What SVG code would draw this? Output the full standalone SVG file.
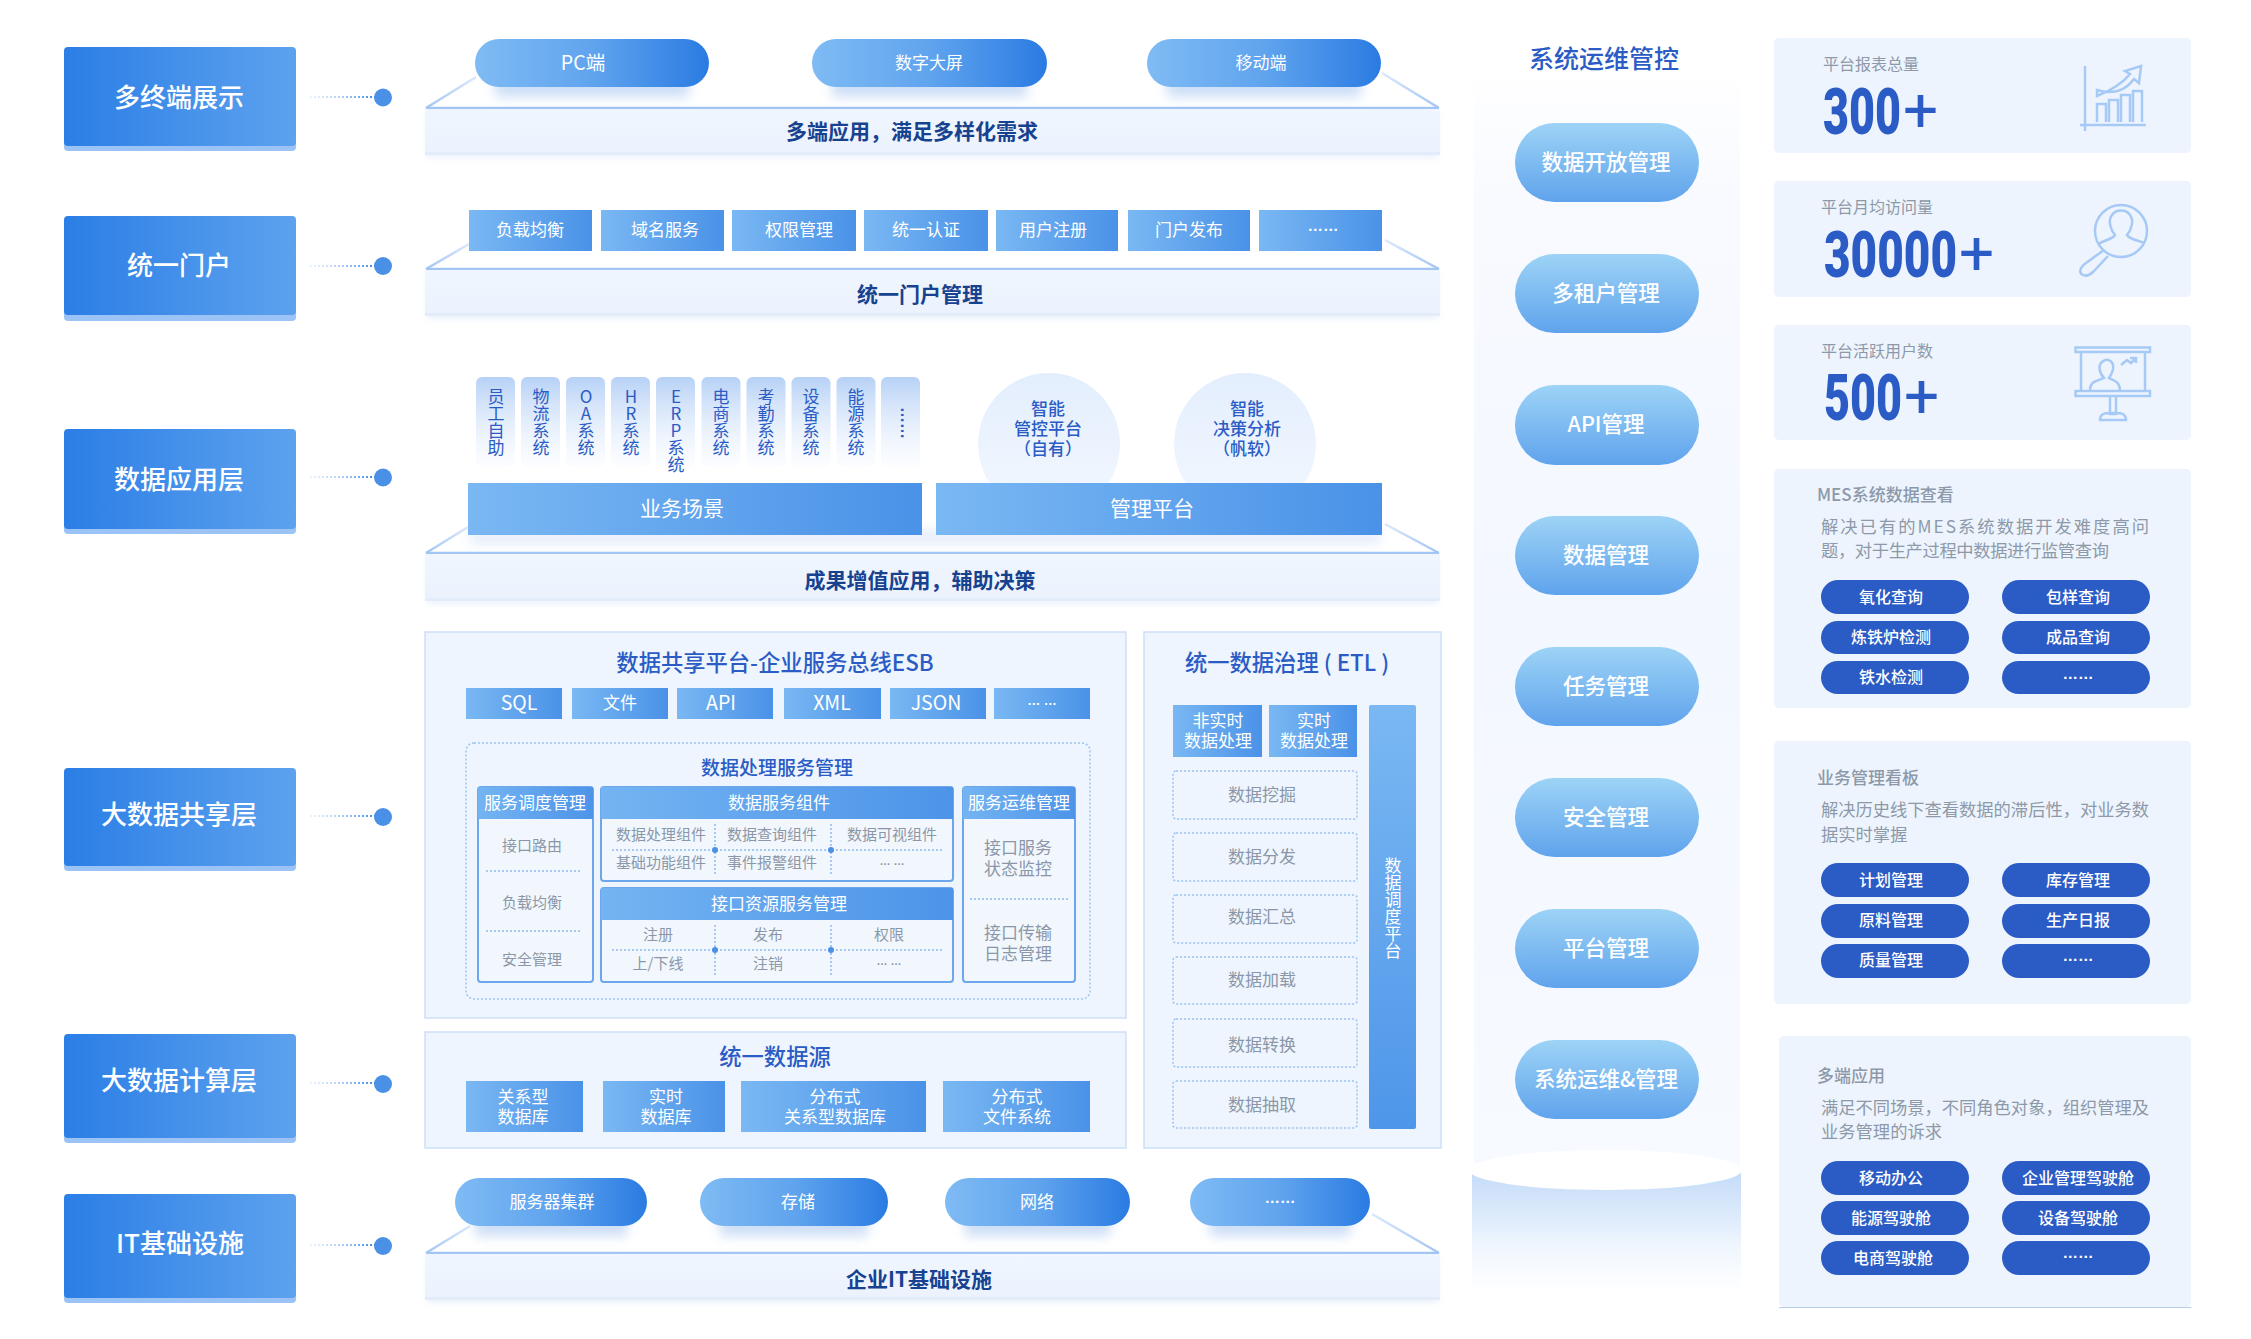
<svg xmlns="http://www.w3.org/2000/svg" width="2251" height="1339" viewBox="0 0 2251 1339">
<style>
text{font-family:"Noto Sans CJK SC","Noto Sans",sans-serif;text-anchor:middle;dominant-baseline:central;transform:translateY(-1.5px)}
.lay{fill:#fff;font-size:26px;font-weight:500}
.plat{fill:#17428f;font-size:21px;font-weight:700}
.blue{fill:#2b5cc5;font-weight:500;font-size:17px}
.h19{fill:#2b5cc5;font-size:19px;font-weight:500}
.h22{fill:#2b5cc5;font-size:22.300px;font-weight:500}
.s17{fill:#fff;font-size:17px}
.s19{fill:#fff;font-size:19.5px}
.s21{fill:#fff;font-size:21px}
.g15{fill:#8b97a8;font-size:15px}
.g17{fill:#8b97a8;font-size:17px}
.vt{writing-mode:vertical-rl;text-orientation:upright;text-anchor:start}
.v{fill:#2b5cc5;font-size:17px}
.vw{fill:#fff;font-size:17px}
.lab{fill:#8d99a8;font-size:16px;text-anchor:start}
.tit{fill:#8d99a8;font-size:17px;font-weight:500;text-anchor:start}
.dsc{fill:#8d99a8;font-size:17.3px;text-anchor:start}
.btx{fill:#fff;font-size:16px;font-weight:500}
.dt{font-family:"Liberation Sans",sans-serif;font-size:15.5px;font-weight:700;fill:#fff;dominant-baseline:alphabetic}
.dtg{font-family:"Liberation Sans",sans-serif;font-size:11px;font-weight:700;fill:#8b97a8;dominant-baseline:alphabetic}
.num{fill:#2b5cc5;font-family:"Roboto","Liberation Sans",sans-serif;font-size:65px;font-weight:900;text-anchor:start;dominant-baseline:alphabetic;transform:none}
.numplus{font-weight:400;font-size:62px}
.ops{fill:#fff;font-size:21.5px;font-weight:500}
.card{fill:#edf4fe}
.btn{fill:#2b5cc5}
.pbody{fill:url(#pb)}
.pstrip{fill:#e2ecfa}
.ptop{stroke:#a2c5f4;stroke-width:2.5;fill:none}
.diag{stroke:url(#dgv);stroke-width:2.5;fill:none}
.pill{fill:url(#hg)}
.box{fill:url(#hg2)}
.shadow{fill:#bcd3f3;filter:url(#blur);opacity:.75}
.pshadow{fill:#bcd3f3;filter:url(#soft);opacity:.3}
.panel{fill:#eef5fe;stroke:#cddff8;stroke-width:1.5}
.colb{fill:#fff;fill-opacity:.25;stroke:#6ea6ec;stroke-width:2}
.head{fill:url(#hg3)}
.dash{fill:none;stroke:#9cc2f3;stroke-width:1.5;stroke-dasharray:2 2}
.dl{stroke:#8fb9f0;stroke-width:1.5;stroke-dasharray:2 2;fill:none}
.dot{fill:#4a90e6}
.ic{fill:none;stroke:#a6c9f5;stroke-width:2.5}
.opsp{fill:url(#vg)}
</style>
<defs>
<linearGradient id="hg" x1="0" x2="1" y1="0" y2="0"><stop offset="0" stop-color="#7fbbf4"/><stop offset=".5" stop-color="#60a4ee"/><stop offset="1" stop-color="#2a7be2"/></linearGradient>
<linearGradient id="hg2" x1="0" x2="1" y1="0" y2="0"><stop offset="0" stop-color="#7ab8f3"/><stop offset="1" stop-color="#4a92e8"/></linearGradient>
<linearGradient id="hg3" x1="0" x2="1" y1="0" y2="0"><stop offset="0" stop-color="#74b4f2"/><stop offset="1" stop-color="#4d94e9"/></linearGradient>
<linearGradient id="lg" x1="0" x2="1" y1="0" y2="0"><stop offset="0" stop-color="#2b7ee6"/><stop offset="1" stop-color="#5da2ee"/></linearGradient>
<linearGradient id="pb" x1="0" x2="0" y1="0" y2="1"><stop offset="0" stop-color="#f0f6ff"/><stop offset="1" stop-color="#ebf2fd"/></linearGradient>
<linearGradient id="dgv" x1="0" x2="0" y1="0" y2="1"><stop offset="0" stop-color="#dbe8fb"/><stop offset="1" stop-color="#a2c5f4"/></linearGradient>
<linearGradient id="vg" x1="0" x2="0" y1="0" y2="1"><stop offset="0" stop-color="#9dd3f6"/><stop offset="1" stop-color="#5fa3ec"/></linearGradient>
<linearGradient id="cir" x1="0" x2="0" y1="0" y2="1"><stop offset="0" stop-color="#e3eefd"/><stop offset="1" stop-color="#f3f8ff"/></linearGradient>
<linearGradient id="side" x1="0" x2="0" y1="0" y2="1"><stop offset="0" stop-color="#fff"/><stop offset=".12" stop-color="#f8faff"/><stop offset=".5" stop-color="#f3f7ff"/><stop offset="1" stop-color="#f7faff"/></linearGradient>
<linearGradient id="cyl" x1="0" x2="0" y1="0" y2="1"><stop offset="0" stop-color="#c3dbf8"/><stop offset=".32" stop-color="#d9e8fb"/><stop offset=".62" stop-color="#f0f6fe"/><stop offset="1" stop-color="#fff"/></linearGradient>
<linearGradient id="cardv" x1="0" x2="0" y1="0" y2="1"><stop offset="0" stop-color="#b6d1f6"/><stop offset="1" stop-color="#f4f8ff" stop-opacity=".3"/></linearGradient>
<linearGradient id="etlv" x1="0" x2="0" y1="0" y2="1"><stop offset="0" stop-color="#7ab8f3"/><stop offset="1" stop-color="#4e96e9"/></linearGradient>
<linearGradient id="dg" gradientUnits="userSpaceOnUse" x1="310" x2="378" y1="0" y2="0"><stop offset="0" stop-color="#bcd6f8" stop-opacity=".3"/><stop offset="1" stop-color="#2b7ee6"/></linearGradient>
<filter id="blur" x="-20%" y="-60%" width="140%" height="220%"><feGaussianBlur stdDeviation="6"/></filter>
<filter id="soft" x="-5%" y="-20%" width="110%" height="140%"><feGaussianBlur stdDeviation="3"/></filter>
<clipPath id="cc"><rect x="960" y="360" width="380" height="124"/></clipPath>
</defs>
<rect width="2251" height="1339" fill="#fff"/>

<g id="connectors" stroke="url(#dg)" stroke-width="2" stroke-dasharray="2 2" fill="none">
<path d="M310 97H378M310 266H378M310 477H378M310 816H378M310 1083H378M310 1245H378"/>
</g>
<g id="connector-dots" class="dot">
<circle cx="383" cy="97.500" r="9"/><circle cx="383" cy="266" r="9"/><circle cx="383" cy="477.500" r="9"/><circle cx="383" cy="817" r="9"/><circle cx="383" cy="1084" r="9"/><circle cx="383" cy="1246" r="9"/>
</g>

<g id="layer-terminal"><rect x="64" y="60" width="232" height="91" rx="4" fill="#9cc3f5"/><rect x="64" y="47" width="232" height="99" rx="4" fill="url(#lg)"/><text class="lay" x="179" y="97">多终端展示</text></g>
<g id="layer-portal"><rect x="64" y="230" width="232" height="91" rx="4" fill="#9cc3f5"/><rect x="64" y="216" width="232" height="99" rx="4" fill="url(#lg)"/><text class="lay" x="179" y="265">统一门户</text></g>
<g id="layer-app"><rect x="64" y="443" width="232" height="91" rx="4" fill="#9cc3f5"/><rect x="64" y="429" width="232" height="100" rx="4" fill="url(#lg)"/><text class="lay" x="179" y="479">数据应用层</text></g>
<g id="layer-share"><rect x="64" y="780" width="232" height="91" rx="4" fill="#9cc3f5"/><rect x="64" y="768" width="232" height="98" rx="4" fill="url(#lg)"/><text class="lay" x="179" y="814">大数据共享层</text></g>
<g id="layer-compute"><rect x="64" y="1050" width="232" height="93" rx="4" fill="#9cc3f5"/><rect x="64" y="1034" width="232" height="104" rx="4" fill="url(#lg)"/><text class="lay" x="179" y="1080">大数据计算层</text></g>
<g id="layer-it"><rect x="64" y="1210" width="232" height="93" rx="4" fill="#9cc3f5"/><rect x="64" y="1194" width="232" height="104" rx="4" fill="url(#lg)"/><text class="lay" x="180" y="1243">IT基础设施</text></g>

<g id="platform-terminal">
<rect x="427" y="112" width="1011" height="46" class="pshadow"/>
<path class="diag" d="M476 77L426 108"/><path class="diag" d="M1382 73L1439 108"/><path class="ptop" d="M426 108H1439"/>
<rect class="pbody" x="425" y="109" width="1015" height="46"/><rect class="pstrip" x="425" y="152" width="1015" height="3"/>
<text class="plat" x="912" y="131">多端应用，满足多样化需求</text>
<rect class="shadow" x="495" y="75" width="194" height="22"/><rect class="shadow" x="832" y="75" width="195" height="22"/><rect class="shadow" x="1167" y="75" width="194" height="22"/>
<rect class="pill" x="475" y="39" width="234" height="48" rx="24"/><text class="s19" x="583" y="63">PC端</text>
<rect class="pill" x="812" y="39" width="235" height="48" rx="24"/><text class="s17" x="929" y="63">数字大屏</text>
<rect class="pill" x="1147" y="39" width="234" height="48" rx="24"/><text class="s17" x="1261" y="63">移动端</text>
</g>

<g id="platform-portal">
<rect x="427" y="273" width="1011" height="46" class="pshadow"/>
<path class="diag" d="M469 244L426 269"/><path class="diag" d="M1385 240L1439 269"/><path class="ptop" d="M426 269H1439"/>
<rect class="pbody" x="425" y="270" width="1015" height="46"/><rect class="pstrip" x="425" y="313" width="1015" height="3"/>
<text class="plat" x="920" y="294">统一门户管理</text>
<rect class="box" x="469" y="210" width="123" height="41"/><text class="s17" x="530" y="230">负载均衡</text>
<rect class="box" x="601" y="210" width="123" height="41"/><text class="s17" x="665" y="230">域名服务</text>
<rect class="box" x="732" y="210" width="124" height="41"/><text class="s17" x="799" y="230">权限管理</text>
<rect class="box" x="864" y="210" width="124" height="41"/><text class="s17" x="926" y="230">统一认证</text>
<rect class="box" x="996" y="210" width="122" height="41"/><text class="s17" x="1053" y="230">用户注册</text>
<rect class="box" x="1128" y="210" width="122" height="41"/><text class="s17" x="1189" y="230">门户发布</text>
<rect class="box" x="1259" y="210" width="123" height="41"/><text class="dt" x="1323" y="232">……</text>
</g>

<g id="platform-app">
<rect x="427" y="557" width="1011" height="47" class="pshadow"/>
<path class="diag" d="M468 527L426 553"/><path class="diag" d="M1385 524L1439 553"/><path class="ptop" d="M426 553H1439"/>
<rect class="pbody" x="425" y="554" width="1015" height="47"/><rect class="pstrip" x="425" y="598" width="1015" height="3"/>
<text class="plat" x="920" y="580">成果增值应用，辅助决策</text>
<g fill="url(#cardv)"><rect x="476" y="377" width="39" height="90" rx="6"/><rect x="521" y="377" width="39" height="90" rx="6"/><rect x="566" y="377" width="39" height="90" rx="6"/><rect x="611" y="377" width="39" height="90" rx="6"/><rect x="656" y="377" width="39" height="90" rx="6"/><rect x="701.500" y="377" width="39" height="90" rx="6"/><rect x="746.500" y="377" width="39" height="90" rx="6"/><rect x="791.500" y="377" width="39" height="90" rx="6"/><rect x="836.500" y="377" width="39" height="90" rx="6"/><rect x="881" y="377" width="39" height="90" rx="6"/></g>
<text class="v vt" x="496" y="390">员工自助</text>
<text class="v vt" x="541" y="390">物流系统</text>
<text class="v vt" x="586" y="390">OA系统</text>
<text class="v vt" x="631" y="390">HR系统</text>
<text class="v vt" x="676" y="390">ERP系统</text>
<text class="v vt" x="721" y="390">电商系统</text>
<text class="v vt" x="766" y="390">考勤系统</text>
<text class="v vt" x="811" y="390">设备系统</text>
<text class="v vt" x="856" y="390">能源系统</text>
<text x="900.500" y="423" style="font-family:'Liberation Sans',sans-serif;font-size:16px;font-weight:700;fill:#2b5cc5;dominant-baseline:alphabetic;transform-origin:900.5px 423px;transform:rotate(90deg)">……</text>
<g clip-path="url(#cc)" fill="url(#cir)"><circle cx="1049" cy="444" r="71"/><circle cx="1245" cy="444" r="71"/></g>
<text class="blue" x="1048" y="409">智能</text><text class="blue" x="1048" y="429">管控平台</text><text class="blue" x="1048" y="449">（自有）</text>
<text class="blue" x="1247" y="409">智能</text><text class="blue" x="1247" y="429">决策分析</text><text class="blue" x="1247" y="449">（帆软）</text>
<rect class="shadow" x="470" y="530" width="910" height="14" style="opacity:.4"/>
<rect class="box" x="468" y="483" width="454" height="52"/><text class="s21" x="682" y="508">业务场景</text>
<rect class="box" x="936" y="483" width="446" height="52"/><text class="s21" x="1152" y="508">管理平台</text>
</g>

<g id="esb">
<rect class="panel" x="425" y="632" width="701" height="386"/>
<text class="h22" x="775" y="662">数据共享平台-企业服务总线ESB</text>
<rect class="box" x="466" y="688" width="96" height="31"/><text class="s19" x="519" y="703">SQL</text>
<rect class="box" x="572" y="688" width="96" height="31"/><text class="s17" x="620" y="703">文件</text>
<rect class="box" x="677" y="688" width="96" height="31"/><text class="s19" x="721" y="703">API</text>
<rect class="box" x="784" y="688" width="97" height="31"/><text class="s19" x="832" y="703">XML</text>
<rect class="box" x="890" y="688" width="96" height="31"/><text class="s19" x="936" y="703">JSON</text>
<rect class="box" x="994" y="688" width="96" height="31"/><text class="dt" x="1042" y="706" style="font-size:13px">… …</text>
<rect class="dash" x="466" y="743" width="624" height="256" rx="8"/>
<text class="h19" x="777" y="768">数据处理服务管理</text>

<rect class="colb" x="478" y="787" width="115" height="195" rx="3"/><rect class="head" x="478" y="787" width="115" height="32"/>
<text class="s17" x="535" y="803">服务调度管理</text>
<text class="g15" x="532" y="846">接口路由</text><text class="g15" x="532" y="903">负载均衡</text><text class="g15" x="532" y="960">安全管理</text>
<path class="dl" d="M486 871H581M486 931H581"/>

<rect class="colb" x="601" y="787" width="352" height="94" rx="3"/><rect class="head" x="601" y="787" width="352" height="32"/>
<text class="s17" x="779" y="803">数据服务组件</text>
<text class="g15" x="661" y="835">数据处理组件</text><text class="g15" x="772" y="835">数据查询组件</text><text class="g15" x="892" y="835">数据可视组件</text>
<text class="g15" x="661" y="863">基础功能组件</text><text class="g15" x="772" y="863">事件报警组件</text><text class="dtg" x="892" y="866">… …</text>
<path class="dl" d="M612 850H944M715 824V875M831 824V875"/><circle class="dot" cx="715" cy="850" r="3"/><circle class="dot" cx="831" cy="850" r="3"/>

<rect class="colb" x="601" y="888" width="352" height="94" rx="3"/><rect class="head" x="601" y="888" width="352" height="32"/>
<text class="s17" x="779" y="904">接口资源服务管理</text>
<text class="g15" x="658" y="935">注册</text><text class="g15" x="768" y="935">发布</text><text class="g15" x="889" y="935">权限</text>
<text class="g15" x="658" y="964">上/下线</text><text class="g15" x="768" y="964">注销</text><text class="dtg" x="889" y="966">… …</text>
<path class="dl" d="M612 950H944M715 925V975M831 925V975"/><circle class="dot" cx="715" cy="950" r="3"/><circle class="dot" cx="831" cy="950" r="3"/>

<rect class="colb" x="963" y="787" width="112" height="195" rx="3"/><rect class="head" x="963" y="787" width="112" height="32"/>
<text class="s17" x="1019" y="803">服务运维管理</text>
<text class="g17" x="1018" y="848">接口服务</text><text class="g17" x="1018" y="869">状态监控</text>
<text class="g17" x="1018" y="933">接口传输</text><text class="g17" x="1018" y="954">日志管理</text>
<path class="dl" d="M970 899H1068"/>
</g>

<g id="datasource">
<rect class="panel" x="425" y="1032" width="701" height="116"/>
<text class="h22" x="775" y="1056">统一数据源</text>
<rect class="box" x="466" y="1081" width="117" height="51"/><text class="s17" x="523" y="1097">关系型</text><text class="s17" x="523" y="1117">数据库</text>
<rect class="box" x="603" y="1081" width="122" height="51"/><text class="s17" x="666" y="1097">实时</text><text class="s17" x="666" y="1117">数据库</text>
<rect class="box" x="741" y="1081" width="185" height="51"/><text class="s17" x="835" y="1097">分布式</text><text class="s17" x="835" y="1117">关系型数据库</text>
<rect class="box" x="943" y="1081" width="147" height="51"/><text class="s17" x="1017" y="1097">分布式</text><text class="s17" x="1017" y="1117">文件系统</text>
</g>

<g id="etl">
<rect class="panel" x="1144" y="632" width="297" height="516"/>
<text class="h22" x="1287" y="662">统一数据治理 ( ETL )</text>
<rect class="box" x="1173" y="705" width="89" height="52"/><text class="s17" x="1218" y="721">非实时</text><text class="s17" x="1218" y="741">数据处理</text>
<rect class="box" x="1269" y="705" width="88" height="52"/><text class="s17" x="1314" y="721">实时</text><text class="s17" x="1314" y="741">数据处理</text>
<rect x="1369" y="705" width="47" height="424" rx="2" fill="url(#etlv)"/>
<text class="vw vt" x="1393" y="859">数据调度平台</text>
<rect class="dash" x="1173" y="771" width="184" height="48" rx="3"/><text class="g17" x="1262" y="795">数据挖掘</text>
<rect class="dash" x="1173" y="833" width="184" height="48" rx="3"/><text class="g17" x="1262" y="857">数据分发</text>
<rect class="dash" x="1173" y="895" width="184" height="48" rx="3"/><text class="g17" x="1262" y="917">数据汇总</text>
<rect class="dash" x="1173" y="957" width="184" height="47" rx="3"/><text class="g17" x="1262" y="980">数据加载</text>
<rect class="dash" x="1173" y="1019" width="184" height="48" rx="3"/><text class="g17" x="1262" y="1045">数据转换</text>
<rect class="dash" x="1173" y="1081" width="184" height="47" rx="3"/><text class="g17" x="1262" y="1105">数据抽取</text>
</g>

<g id="platform-it">
<rect x="427" y="1257" width="1011" height="46" class="pshadow"/>
<path class="diag" d="M470 1226L426 1253"/><path class="diag" d="M1372 1214L1439 1253"/><path class="ptop" d="M426 1253H1439"/>
<rect class="pbody" x="425" y="1254" width="1015" height="46"/><rect class="pstrip" x="425" y="1297" width="1015" height="3"/>
<text class="plat" x="919" y="1279">企业IT基础设施</text>
<rect class="shadow" x="475" y="1214" width="152" height="22"/><rect class="shadow" x="720" y="1214" width="148" height="22"/><rect class="shadow" x="965" y="1214" width="145" height="22"/><rect class="shadow" x="1210" y="1214" width="140" height="22"/>
<rect class="pill" x="455" y="1178" width="192" height="48" rx="24"/><text class="s17" x="552" y="1202">服务器集群</text>
<rect class="pill" x="700" y="1178" width="188" height="48" rx="24"/><text class="s17" x="798" y="1202">存储</text>
<rect class="pill" x="945" y="1178" width="185" height="48" rx="24"/><text class="s17" x="1037" y="1202">网络</text>
<rect class="pill" x="1190" y="1178" width="180" height="48" rx="24"/><text class="dt" x="1280" y="1204">……</text>
</g>

<g id="ops">
<rect x="1474" y="64" width="266" height="1120" fill="url(#side)"/>
<rect x="1472" y="1170" width="269" height="123" fill="url(#cyl)"/>
<ellipse cx="1605.500" cy="1170" rx="136.500" ry="20" fill="#fff"/>
<text class="h22" style="font-size:25px" x="1604" y="58">系统运维管控</text>
<rect class="opsp" x="1515" y="123" width="184" height="79" rx="39.500"/><text class="ops" x="1606" y="162">数据开放管理</text>
<rect class="opsp" x="1515" y="254" width="184" height="79" rx="39.500"/><text class="ops" x="1606" y="293">多租户管理</text>
<rect class="opsp" x="1515" y="385" width="184" height="80" rx="39.500"/><text class="ops" x="1606" y="424">API管理</text>
<rect class="opsp" x="1515" y="516" width="184" height="79" rx="39.500"/><text class="ops" x="1606" y="555">数据管理</text>
<rect class="opsp" x="1515" y="647" width="184" height="79" rx="39.500"/><text class="ops" x="1606" y="686">任务管理</text>
<rect class="opsp" x="1515" y="778" width="184" height="79" rx="39.500"/><text class="ops" x="1606" y="817">安全管理</text>
<rect class="opsp" x="1515" y="909" width="184" height="79" rx="39.500"/><text class="ops" x="1606" y="948">平台管理</text>
<rect class="opsp" x="1515" y="1040" width="184" height="79" rx="39.500"/><text class="ops" x="1606" y="1079">系统运维&amp;管理</text>
</g>

<g id="stat-report">
<rect class="card" x="1774" y="38" width="417" height="115" rx="5"/>
<text class="lab" x="1823" y="64">平台报表总量</text>
<text class="num" x="1823" y="134"><tspan textLength="78" lengthAdjust="spacingAndGlyphs">300</tspan><tspan class="numplus" dx="2" dy="-3">+</tspan></text>
<path class="ic" d="M2085 66V131M2080 125H2146"/>
<path class="ic" d="M2097 122V104H2106V122M2109 122V100H2118V122M2121 122V95H2130V122M2133 122V91H2142V122"/>
<path class="ic" d="M2097 96C2112 90 2122 84 2130 74L2125 71L2141 66L2139 83L2134 79C2126 90 2114 95 2097 90Z"/>
</g>
<g id="stat-visits">
<rect class="card" x="1774" y="181" width="417" height="116" rx="5"/>
<text class="lab" x="1821" y="207">平台月均访问量</text>
<text class="num" x="1824" y="276.500"><tspan textLength="133" lengthAdjust="spacingAndGlyphs">30000</tspan><tspan class="numplus" dx="2" dy="-3">+</tspan></text>
<circle class="ic" cx="2121" cy="231" r="26"/>
<path class="ic" d="M2099 244C2103 240 2112 240 2115 235C2110 229 2108 220 2112 215C2116 209 2126 209 2130 215C2134 220 2132 229 2127 235C2130 240 2139 240 2144 243"/>
<path class="ic" d="M2104 250L2086 263C2079 268 2079 273 2083 275C2087 277 2091 274 2094 271L2108 256"/>
</g>
<g id="stat-users">
<rect class="card" x="1774" y="325" width="417" height="115" rx="5"/>
<text class="lab" x="1821" y="351">平台活跃用户数</text>
<text class="num" x="1824" y="420"><tspan textLength="78" lengthAdjust="spacingAndGlyphs">500</tspan><tspan class="numplus" dx="2" dy="-3">+</tspan></text>
<path class="ic" d="M2075.500 347.500H2150V352H2075.500ZM2081 352V391M2145 352V391M2075.500 391H2150V396H2075.500ZM2110 396V414H2116V396M2100 420C2100 414 2104 413 2110 413H2116C2122 413 2126 414 2126 420Z"/>
<path class="ic" d="M2090 391C2090 380 2098 381 2104 378C2099 373 2098 365 2102 362C2106 358 2112 360 2113 365C2114 370 2111 375 2109 378C2114 381 2120 381 2120 391"/>
<path class="ic" d="M2121 365L2127 360L2131 363L2136 358M2130 358H2136V363"/>
</g>

<g id="card-mes">
<rect class="card" x="1774" y="469" width="417" height="239" rx="5"/>
<text class="tit" x="1817" y="495">MES系统数据查看</text>
<text class="dsc" x="1821" y="527" textLength="328">解决已有的MES系统数据开发难度高问</text>
<text class="dsc" x="1821" y="551" textLength="288">题，对于生产过程中数据进行监管查询</text>
<rect class="btn" x="1821" y="580" width="148" height="34" rx="17"/><text class="btx" x="1891" y="597">氧化查询</text>
<rect class="btn" x="2002" y="580" width="148" height="34" rx="17"/><text class="btx" x="2078" y="597">包样查询</text>
<rect class="btn" x="1821" y="621" width="148" height="33" rx="16.500"/><text class="btx" x="1891" y="637">炼铁炉检测</text>
<rect class="btn" x="2002" y="621" width="148" height="33" rx="16.500"/><text class="btx" x="2078" y="637">成品查询</text>
<rect class="btn" x="1821" y="661" width="148" height="33" rx="16.500"/><text class="btx" x="1891" y="677">铁水检测</text>
<rect class="btn" x="2002" y="661" width="148" height="33" rx="16.500"/><text class="dt" x="2078" y="680">……</text>
</g>
<g id="card-board">
<rect class="card" x="1774" y="741" width="417" height="263" rx="5"/>
<text class="tit" x="1817" y="778">业务管理看板</text>
<text class="dsc" x="1821" y="810" textLength="328">解决历史线下查看数据的滞后性，对业务数</text>
<text class="dsc" x="1821" y="835">据实时掌握</text>
<rect class="btn" x="1821" y="863" width="148" height="34" rx="17"/><text class="btx" x="1891" y="880">计划管理</text>
<rect class="btn" x="2002" y="863" width="148" height="34" rx="17"/><text class="btx" x="2078" y="880">库存管理</text>
<rect class="btn" x="1821" y="904" width="148" height="34" rx="17"/><text class="btx" x="1891" y="920">原料管理</text>
<rect class="btn" x="2002" y="904" width="148" height="34" rx="17"/><text class="btx" x="2078" y="920">生产日报</text>
<rect class="btn" x="1821" y="944" width="148" height="34" rx="17"/><text class="btx" x="1891" y="960">质量管理</text>
<rect class="btn" x="2002" y="944" width="148" height="34" rx="17"/><text class="dt" x="2078" y="962">……</text>
</g>
<g id="card-multi">
<rect class="card" x="1779" y="1036" width="412" height="271" rx="5"/>
<path d="M1779 1307.500H2191" stroke="#b8cdea" stroke-width="1"/>
<text class="tit" x="1817" y="1076">多端应用</text>
<text class="dsc" x="1821" y="1108" textLength="328">满足不同场景，不同角色对象，组织管理及</text>
<text class="dsc" x="1821" y="1132">业务管理的诉求</text>
<rect class="btn" x="1821" y="1161" width="148" height="34" rx="17"/><text class="btx" x="1891" y="1178">移动办公</text>
<rect class="btn" x="2002" y="1161" width="148" height="34" rx="17"/><text class="btx" x="2078" y="1178">企业管理驾驶舱</text>
<rect class="btn" x="1821" y="1201" width="148" height="34" rx="17"/><text class="btx" x="1891" y="1218">能源驾驶舱</text>
<rect class="btn" x="2002" y="1201" width="148" height="34" rx="17"/><text class="btx" x="2078" y="1218">设备驾驶舱</text>
<rect class="btn" x="1821" y="1241" width="148" height="34" rx="17"/><text class="btx" x="1893" y="1258">电商驾驶舱</text>
<rect class="btn" x="2002" y="1241" width="148" height="34" rx="17"/><text class="dt" x="2078" y="1259">……</text>
</g>
</svg>
